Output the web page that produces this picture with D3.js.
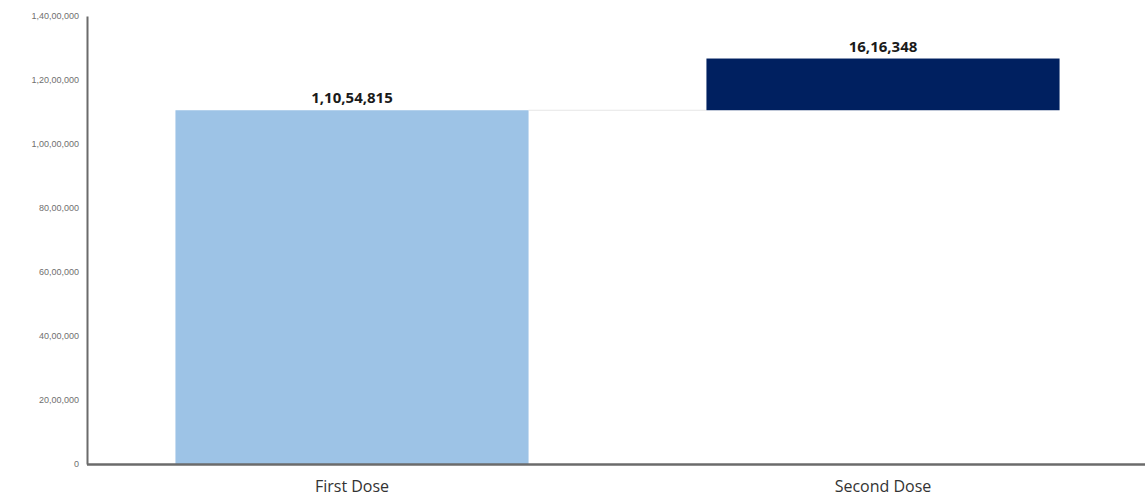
<!DOCTYPE html>
<html><head><meta charset="utf-8">
<script src="https://cdn.jsdelivr.net/npm/d3@7"></script>
<style>body{margin:0;background:#fff}svg{display:block}</style>
</head><body>
<svg id="c" width="1145" height="499"></svg>
<script>
const categories = ["First Dose", "Second Dose"];
const values = [11054815, 1616348];
const colors = ["#9DC3E6", "#002060"];
const yTicks = [0, 2000000, 4000000, 6000000, 8000000, 10000000, 12000000, 14000000];

function inr(n){
  const s = String(Math.round(n));
  if (s.length <= 3) return s;
  const last3 = s.slice(-3);
  let rest = s.slice(0, -3);
  const parts = [];
  while (rest.length > 2){ parts.unshift(rest.slice(-2)); rest = rest.slice(0, -2); }
  if (rest.length) parts.unshift(rest);
  return parts.join(",") + "," + last3;
}

// waterfall stacking
let cum = 0;
const data = categories.map((c, i) => { const d = {cat: c, start: cum, end: cum + values[i], v: values[i], color: colors[i]}; cum += values[i]; return d; });

const svg = d3.select("#c");
const x = d3.scaleBand().domain(categories).range([86.5, 1148.5]).paddingInner(0.335).paddingOuter(0.1675);
const y = d3.scaleLinear().domain([0, 14000000]).range([464, 16]);

// connector
for (let i = 0; i < data.length - 1; i++){
  svg.append("line")
    .attr("x1", x(data[i].cat) + x.bandwidth()).attr("x2", x(data[i+1].cat))
    .attr("y1", y(data[i].end)).attr("y2", y(data[i].end))
    .attr("stroke", "#e6e6e6").attr("stroke-width", 1);
}

svg.selectAll("rect.bar").data(data).join("rect")
  .attr("class", "bar")
  .attr("x", d => x(d.cat)).attr("width", x.bandwidth())
  .attr("y", d => y(d.end)).attr("height", d => y(d.start) - y(d.end))
  .attr("fill", d => d.color);

svg.selectAll("text.val").data(data).join("text")
  .attr("class", "val")
  .attr("x", d => x(d.cat) + x.bandwidth()/2).attr("y", d => y(d.end) - 7)
  .attr("text-anchor", "middle")
  .attr("font-family", "Open Sans, Liberation Sans, sans-serif")
  .attr("font-weight", "bold").attr("font-size", 15).attr("fill", "#1a1a1a")
  .text(d => inr(d.v));

// y axis
const yAxis = d3.axisLeft(y).tickValues(yTicks).tickFormat(inr).tickSize(0).tickPadding(8);
const ga = svg.append("g").attr("transform", "translate(87,0)").call(yAxis);
ga.select(".domain").attr("stroke", "#6b6b6b").attr("stroke-width", 2);
ga.selectAll("text").attr("font-family", "Liberation Sans, sans-serif").attr("font-size", 9).attr("fill", "#6f6f6f");

// x axis
const xAxis = d3.axisBottom(x).tickSize(0).tickPadding(17);
const gx = svg.append("g").attr("transform", "translate(0,464)").call(xAxis);
gx.select(".domain").attr("stroke", "#6b6b6b").attr("stroke-width", 2.5);
gx.selectAll("text").attr("font-family", "Open Sans, Liberation Sans, sans-serif").attr("font-size", 16).attr("fill", "#333");
</script>
</body></html>
